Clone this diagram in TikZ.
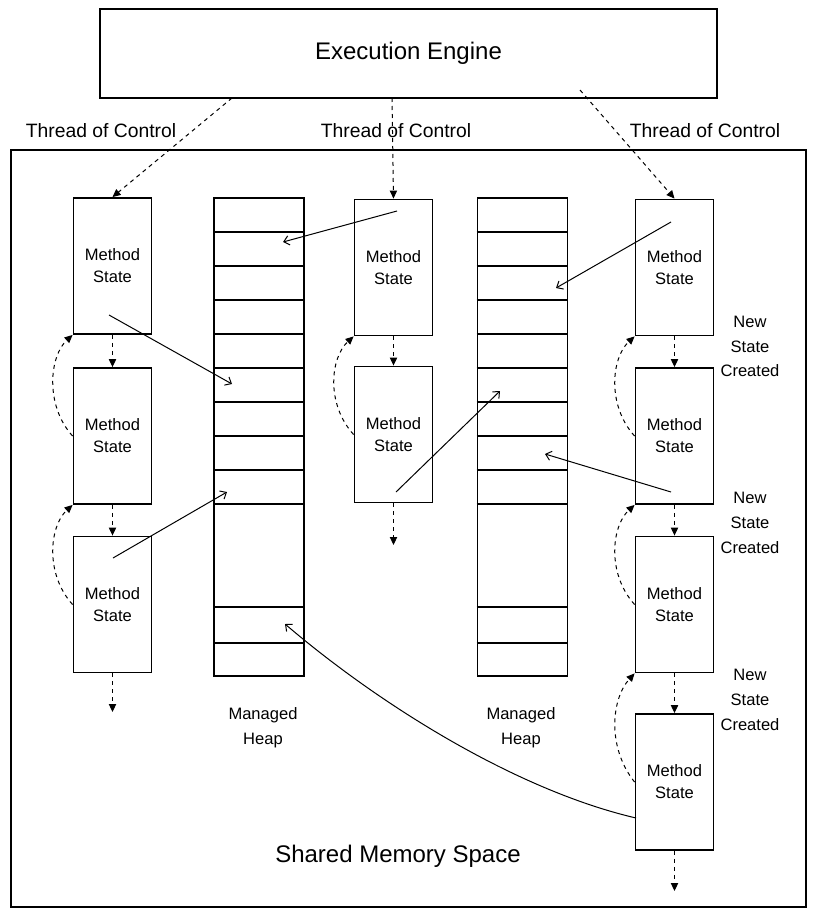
\documentclass[tikz,border=0pt]{standalone}
\usepackage{fontspec}
\setmainfont{Liberation Sans}
\usetikzlibrary{arrows.meta}

\tikzset{every picture/.style={line width=0.75pt}}
\tikzset{
  mstate/.style={draw, line width=1.4pt, minimum width=58.5pt, minimum height=102pt, inner sep=0pt, align=center, font=\fontsize{12.4}{16.5}\selectfont},
  heapbox/.style={draw, line width=1.4pt, minimum width=67.5pt, minimum height=358.5pt, inner sep=0pt},
  flow/.style={dash pattern=on 3pt off 3pt, -{Triangle[length=6pt,width=5.5pt]}},
  ptr/.style={-{Straight Barb[length=4pt,width=7pt]}},
  lbl/.style={align=center, font=\fontsize{12.4}{18.5}\selectfont},
  tlbl/.style={anchor=base, font=\fontsize{14.5}{17}\selectfont},
}

\begin{document}
\begin{tikzpicture}[x=0.75pt,y=0.75pt,yscale=-1,xscale=1]
\useasboundingbox (0,0) rectangle (813,914);

%Shape: Rectangle [Execution Engine]
\node[draw, line width=1.4pt, minimum width=462.75pt, minimum height=66.75pt, font=\fontsize{18}{21}\selectfont] (ee) at (408.5,53.5) {Execution Engine};
%Shape: Rectangle [Shared Memory Space]
\draw[line width=1.4pt] (11,150) rectangle (806,907);
\node[anchor=base, font=\fontsize{18}{21}\selectfont] (shm) at (398,862) {Shared Memory Space};

%Thread labels
\node[tlbl] (th1) at (101,137) {Thread of Control};
\node[tlbl] (th2) at (396,137) {Thread of Control};
\node[tlbl] (th3) at (705,137) {Thread of Control};

%Method states
\node[mstate] (a1) at (112.5,266) {Method\\State};
\node[mstate] (a2) at (112.5,436) {Method\\State};
\node[mstate] (a3) at (112.5,604.5) {Method\\State};
\node[mstate] (b1) at (393.5,267.5) {Method\\State};
\node[mstate] (b2) at (393.5,434.5) {Method\\State};
\node[mstate] (c1) at (674.5,267.5) {Method\\State};
\node[mstate] (c2) at (674.5,436) {Method\\State};
\node[mstate] (c3) at (674.5,604.5) {Method\\State};
\node[mstate] (c4) at (674.5,782) {Method\\State};

%Managed heaps
\node[heapbox] (hA) at (259,437) {};
\node[heapbox] (hB) at (522.5,437) {};
\foreach \y in {232,266,300,334,368,402,436,470,504,607,643} {
  \draw[line width=1.4pt] (hA.west |- 0,\y) -- (hA.east |- 0,\y);
  \draw[line width=1.4pt] (hB.west |- 0,\y) -- (hB.east |- 0,\y);
}
\node[lbl] (mhA) at (263,728) {Managed\\Heap};
\node[lbl] (mhB) at (521,728) {Managed\\Heap};

%New state labels
\node[lbl] (ns1) at (750,346.5) {New\\State\\Created};
\node[lbl] (ns2) at (750,523) {New\\State\\Created};
\node[lbl] (ns3) at (750,700) {New\\State\\Created};

%Threads of control
\coordinate (t1) at (232,98);
\coordinate (t2) at (392,98);
\coordinate (t3) at (580,90);
\draw[flow] (t1) -- (a1.north);
\draw[flow] (t2) -- (b1.north);
\draw[flow] (t3) -- (c1.north);

%Straight Lines [calls]
\draw[flow] (a1) -- (a2);
\draw[flow] (a2) -- (a3);
\draw[flow] (b1) -- (b2);
\draw[flow] (c1) -- (c2);
\draw[flow] (c2) -- (c3);
\draw[flow] (c3) -- (c4);
\coordinate (ae) at (112.5,712);
\coordinate (be) at (393.5,545);
\coordinate (ce) at (674.5,891);
\draw[flow] (a3) -- (ae);
\draw[flow] (b2) -- (be);
\draw[flow] (c4) -- (ce);

%Curve Lines [returns]
\draw[flow] (a2.west) .. controls +(-28,-31) and +(-23,21) .. (a1.south west);
\draw[flow] (a3.west) .. controls +(-28,-31) and +(-23,21) .. (a2.south west);
\draw[flow] (b2.west) .. controls +(-28,-31) and +(-23,21) .. (b1.south west);
\draw[flow] (c2.west) .. controls +(-28,-31) and +(-23,21) .. (c1.south west);
\draw[flow] (c3.west) .. controls +(-28,-31) and +(-23,21) .. (c2.south west);
\draw[flow] (c4.west) .. controls +(-28,-35) and +(-23,25) .. (c3.south west);

%Straight Lines [references]
\coordinate (p1) at (109,315);  \coordinate (r1) at (232,384);
\coordinate (p2) at (113,558);  \coordinate (r2) at (227,492);
\coordinate (p3) at (397,211);  \coordinate (r3) at (283,242);
\coordinate (p4) at (396,492);  \coordinate (r4) at (500,391);
\coordinate (p5) at (671,222);  \coordinate (r5) at (556,288);
\coordinate (p6) at (671,492);  \coordinate (r6) at (545,454);
\coordinate (p7) at (636,818);  \coordinate (r7) at (285,624);
\draw[ptr] (p1) -- (r1);
\draw[ptr] (p2) -- (r2);
\draw[ptr] (p3) -- (r3);
\draw[ptr] (p4) -- (r4);
\draw[ptr] (p5) -- (r5);
\draw[ptr] (p6) -- (r6);
\draw[ptr] (p7) .. controls (516,790) and (380,705) .. (r7);

\end{tikzpicture}
\end{document}
